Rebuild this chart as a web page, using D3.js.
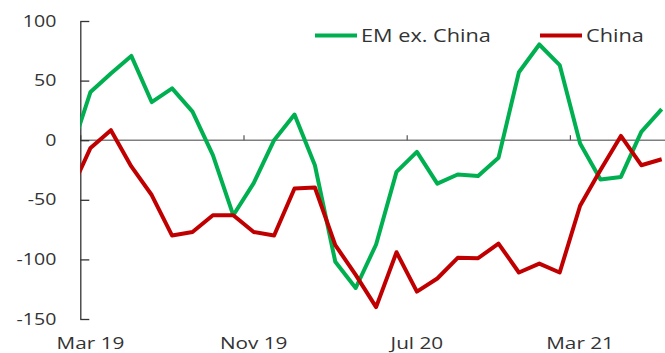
<html>

<head>
  <meta charset="utf-8">
  <title>EM ex. China vs China</title>
  <script type="text/javascript" src="https://cdn.jsdelivr.net/npm/d3@7"></script>
  <style>
    body { margin: 0; background: #fff; }
    text { font-family: "Open Sans", sans-serif; fill: #333; }
  </style>
</head>

<body>
  <script type="text/javascript">
    // Size of the picture
    const w = 665;
    const h = 353;

    // Months (Feb 19 is only partly visible, cut at the y axis)
    const months = ["Feb 19", "Mar 19", "Apr 19", "May 19", "Jun 19", "Jul 19", "Aug 19", "Sep 19",
      "Oct 19", "Nov 19", "Dec 19", "Jan 20", "Feb 20", "Mar 20", "Apr 20", "May 20", "Jun 20",
      "Jul 20", "Aug 20", "Sep 20", "Oct 20", "Nov 20", "Dec 20", "Jan 21", "Feb 21", "Mar 21",
      "Apr 21", "May 21", "Jun 21", "Jul 21"];

    const emExChina = [-12, 40.5, 56, 70.7, 32, 43.5, 24, -12.5, -63, -36, 0, 21.5, -21, -102, -124,
      -87.5, -26.6, -9.8, -36.4, -28.8, -30, -14.8, 57, 80.3, 63, -2.8, -33, -30.8, 7, 26];

    const china = [-43.5, -6.5, 8.4, -22, -46, -80, -77, -63, -63, -77, -80, -40.5, -39.7, -88, -113,
      -140, -94, -127, -116, -98.7, -99, -86.7, -111, -103.5, -111, -55, -25, 3.6, -21, -16];

    const xTickLabels = ["Mar 19", "Nov 19", "Jul 20", "Mar 21"];
    const yTicks = [-150, -100, -50, 0, 50, 100];

    const seriesNames = ["EM ex. China", "China"];
    const colors = ["#00b050", "#c00000"];

    // text in the picture is drawn a bit wider than the font
    const stretch = 1.22;

    const left = 80.3;
    const step = 20.4;

    // x: category index, band borders
    const xScale = d3.scaleLinear()
      .domain([0, months.length])
      .range([left - step, left + (months.length - 1) * step]);

    const yScale = d3.scaleLinear()
      .domain([-150, 100])
      .range([319, 21]);

    const svg = d3.select("body")
      .append("svg")
      .attr("width", w)
      .attr("height", h);

    svg.append("defs").append("clipPath")
      .attr("id", "plot")
      .append("rect")
      .attr("x", left)
      .attr("y", 0)
      .attr("width", w - left)
      .attr("height", h);

    // zero line with month ticks
    svg.append("line")
      .attr("x1", left)
      .attr("x2", w)
      .attr("y1", yScale(0))
      .attr("y2", yScale(0))
      .attr("stroke", "#7f7f7f")
      .attr("stroke-width", 1.5);

    const xAxis = d3.axisBottom(xScale)
      .tickValues(xTickLabels.map(function (m) { return months.indexOf(m); }))
      .tickSizeInner(-5)
      .tickSizeOuter(0)
      .tickFormat("");

    const gx = svg.append("g")
      .attr("transform", "translate(0," + yScale(0) + ")")
      .call(xAxis);
    gx.select(".domain").remove();
    gx.selectAll(".tick line").attr("stroke", "#555").attr("stroke-width", 1.2);

    // x labels in the middle of their month
    svg.selectAll("text.xlab")
      .data(xTickLabels)
      .enter()
      .append("text")
      .attr("class", "xlab")
      .attr("x", function (d) { return xScale(months.indexOf(d) + 0.5); })
      .attr("y", 349)
      .attr("text-anchor", "middle")
      .attr("font-size", 17)
      .text(function (d) { return d; });

    // y axis, ticks point inwards
    const yAxis = d3.axisLeft(yScale)
      .tickValues(yTicks)
      .tickSizeInner(-9)
      .tickSizeOuter(0)
      .tickPadding(24)
      .tickFormat(function (d) { return String(d); });

    const gy = svg.append("g")
      .attr("transform", "translate(" + left + ",0)")
      .call(yAxis);
    gy.select(".domain").attr("stroke", "#333").attr("stroke-width", 1.3);
    gy.selectAll(".tick line").attr("stroke", "#333").attr("stroke-width", 1.3);
    gy.selectAll(".tick text")
      .attr("font-size", 16)
      .attr("font-family", "Open Sans, sans-serif")
      .attr("fill", "#333");

    // lines
    const line = d3.line()
      .x(function (d, i) { return xScale(i + 0.5); })
      .y(function (d) { return yScale(d); });

    const plot = svg.append("g").attr("clip-path", "url(#plot)");

    [emExChina, china].forEach(function (s, k) {
      plot.append("path")
        .datum(s)
        .attr("d", line)
        .attr("fill", "none")
        .attr("stroke", colors[k])
        .attr("stroke-width", 4)
        .attr("stroke-linejoin", "round");
    });

    // legend
    const legendX = [315, 540];
    seriesNames.forEach(function (name, k) {
      svg.append("line")
        .attr("x1", legendX[k])
        .attr("x2", legendX[k] + 42)
        .attr("y1", 35.5)
        .attr("y2", 35.5)
        .attr("stroke", colors[k])
        .attr("stroke-width", 4);
      svg.append("text")
        .attr("x", legendX[k] + 46)
        .attr("y", 42)
        .attr("font-size", 17.8)
        .text(name);
    });

    // widen all texts a bit
    svg.selectAll("text").each(function () {
      const len = this.getComputedTextLength();
      d3.select(this)
        .attr("textLength", len * stretch)
        .attr("lengthAdjust", "spacingAndGlyphs");
    });
  </script>
</body>

</html>
